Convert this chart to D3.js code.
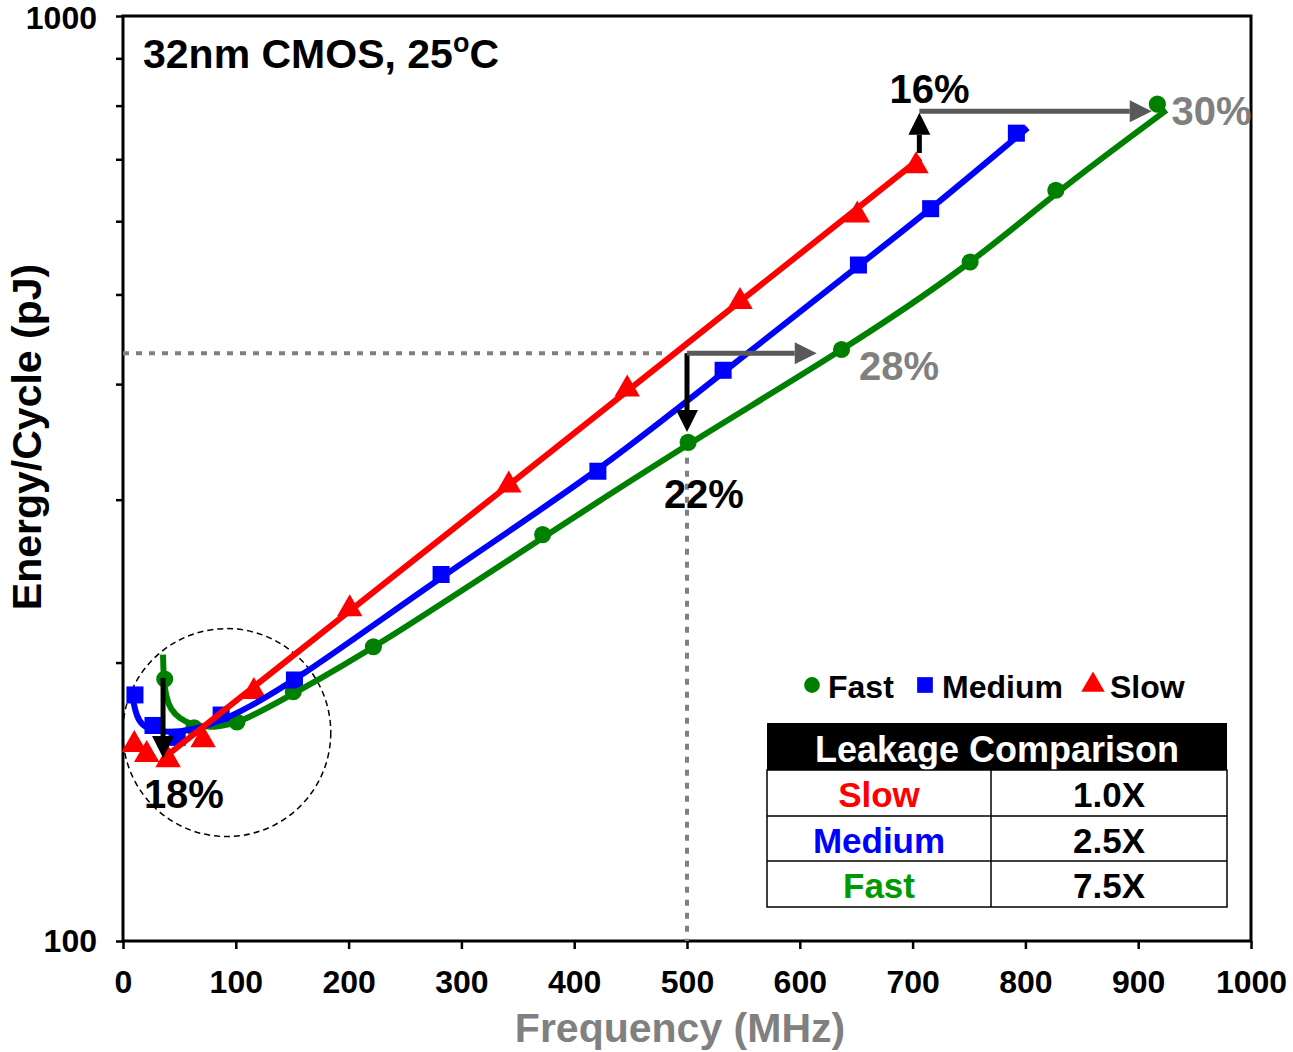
<!DOCTYPE html>
<html>
<head>
<meta charset="utf-8">
<script src="https://cdn.jsdelivr.net/npm/d3@7"></script>
<style>
  body { margin: 0; background: #fff; }
  svg text { font-family: "Liberation Sans", Arial, sans-serif; font-weight: bold; }
</style>
</head>
<body>
<div id="chart"></div>
<script>
// measured points (frequency MHz, energy pJ)
var fastPoints = [[37,192],[63,170],[101,172.5],[151,186],[222,208],[372,275],[501,346],[637,436],[751,542],[827,648],[917,803]];
var mediumPoints = [[10.6,184.5],[26.6,171],[48,166],[87,175.5],[152,191.5],[282,249],[421,322],[532,414],[652,538],[716,619],[792,747]];
var slowPoints = [[10,163],[21,159],[40,157],[71,165],[116,186],[201,228.5],[342,311],[447,395],[547,491],[651,609],[703,688.5]];

// trend lines
var fastFit = [[35.5,204],[36,192],[38,184],[42,178],[50,174],[62,171],[80,170],[104,172],[151,185],[222,207],[372,273],[501,345],[637,434],[751,538],[827,645],[925,791]];
var mediumFit = [[9,182],[12,175],[17,171],[26,169],[42,168],[59,169],[88,172.5],[151,190],[282,248],[421,321],[532,412],[652,537],[716,618],[802,757]];
var slowFit = [[37,158],[342,311],[707,702]];

var xTicks = [0,100,200,300,400,500,600,700,800,900,1000];
var yTicks = [100,200,300,400,500,600,700,800,900,1000];
var yLabels = [100,1000];

var legendNames = ['Fast','Medium','Slow'];
var leakageNames = ['Slow','Medium','Fast'];
var leakageValues = ['1.0X','2.5X','7.5X'];

// annotations: arrows [f1,e1,f2,e2,color]
var arrows = [
    [500,432,500,355,'#000'],
    [500,432,615,432,'#595959'],
    [706,711,706,786,'#000'],
    [706,789,912,789,'#595959'],
    [35.5,192.5,35.5,157.7,'#000']
];
var pctLabels = [
    ['16%',715,805,'#000'],
    ['30%',965,762,'#808080'],
    ['28%',688,404,'#808080'],
    ['22%',515,294,'#000'],
    ['18%',54,139.3,'#000']
];

var W = 1293, H = 1052;
var svg = d3.select('#chart').append('svg').attr('width', W).attr('height', H);

var x = d3.scaleLinear().domain([0,1000]).range([123,1251]);
var y = d3.scaleLog().domain([100,1000]).range([941,16]);

// axes
var xAxis = svg.append('g').attr('transform','translate(0,941)')
    .call(d3.axisBottom(x).tickValues(xTicks).tickSize(8).tickPadding(21).tickFormat(d3.format('d')));
var yAxis = svg.append('g').attr('transform','translate(123,0)')
    .call(d3.axisLeft(y).tickValues(yTicks).tickSize(7).tickPadding(19)
        .tickFormat(function(d) { return yLabels.indexOf(d) >= 0 ? d : ''; }));
[xAxis, yAxis].forEach(function(a) {
    a.select('.domain').remove();
    a.selectAll('.tick line').attr('stroke','#000').attr('stroke-width',2.5);
    a.selectAll('.tick text').attr('font-size',32).attr('fill','#000')
        .style('font-family','"Liberation Sans", Arial, sans-serif').style('font-weight','bold');
});
// keep the top label inside the page
yAxis.selectAll('.tick text').filter(function(d) { return d === 1000; }).attr('y', 2);

// frame
svg.append('rect').attr('x',123).attr('y',16).attr('width',1128).attr('height',925)
    .attr('fill','none').attr('stroke','#000').attr('stroke-width',3);

// axis titles
svg.append('text').attr('x',680).attr('y',1042).attr('text-anchor','middle')
    .attr('font-size',41).attr('fill','#808080').text('Frequency (MHz)');
svg.append('text').attr('transform','translate(41,437) rotate(-90)').attr('text-anchor','middle')
    .attr('font-size',41).attr('fill','#000').text('Energy/Cycle (pJ)');

// title
var title = svg.append('text').attr('x',143).attr('y',68).attr('font-size',41).attr('fill','#000');
title.append('tspan').text('32nm CMOS, 25');
title.append('tspan').attr('font-size',27).attr('dy',-16).text('o');
title.append('tspan').attr('dy',16).text('C');

// dotted guides
svg.append('line').attr('x1',x(0)).attr('x2',x(500) - 18).attr('y1',y(432)).attr('y2',y(432))
    .attr('stroke','#808080').attr('stroke-width',4).attr('stroke-dasharray','6,7');
svg.append('line').attr('x1',x(500)).attr('x2',x(500)).attr('y1',y(333)).attr('y2',y(100))
    .attr('stroke','#808080').attr('stroke-width',4).attr('stroke-dasharray','6,7');

// dashed circle
svg.append('circle').attr('cx',x(92)).attr('cy',y(168)).attr('r',104)
    .attr('fill','none').attr('stroke','#000').attr('stroke-width',1.5).attr('stroke-dasharray','6,4');

var series = [
    { pts: fastPoints, fit: fastFit, color: '#008000', sym: d3.symbolCircle, size: 230 },
    { pts: mediumPoints, fit: mediumFit, color: '#0000ff', sym: d3.symbolSquare, size: 290 },
    { pts: slowPoints, fit: slowFit, color: '#ff0000', sym: d3.symbolTriangle, size: 280 }
];

// markers
series.forEach(function(s) {
    svg.append('g').selectAll('path').data(s.pts).enter().append('path')
        .attr('d', d3.symbol().type(s.sym).size(s.size))
        .attr('transform', function(d) { return 'translate(' + x(d[0]) + ',' + y(d[1]) + ')'; })
        .attr('fill', s.color);
});

// trend lines
var line = d3.line()
    .x(function(d) { return x(d[0]); })
    .y(function(d) { return y(d[1]); })
    .curve(d3.curveBasis);
series.forEach(function(s) {
    svg.append('path').datum(s.fit).attr('d', line)
        .attr('fill','none').attr('stroke', s.color).attr('stroke-width',6);
});

// arrows
arrows.forEach(function(a) {
    var x1 = x(a[0]), y1 = y(a[1]), x2 = x(a[2]), y2 = y(a[3]);
    var ang = Math.atan2(y2 - y1, x2 - x1);
    var len = 22, half = 11;
    var bx = x2 - len * Math.cos(ang), by = y2 - len * Math.sin(ang);
    svg.append('line').attr('x1',x1).attr('y1',y1).attr('x2',bx).attr('y2',by)
        .attr('stroke',a[4]).attr('stroke-width',5);
    svg.append('path').attr('fill',a[4])
        .attr('d','M' + x2 + ',' + y2 +
            'L' + (bx + half * Math.sin(ang)) + ',' + (by - half * Math.cos(ang)) +
            'L' + (bx - half * Math.sin(ang)) + ',' + (by + half * Math.cos(ang)) + 'Z');
});

// percent labels
pctLabels.forEach(function(p) {
    svg.append('text').attr('x', x(p[1])).attr('y', y(p[2])).attr('text-anchor','middle')
        .attr('font-size',40).attr('fill',p[3]).text(p[0]);
});

// legend
var legendX = [812, 925, 1093];
var legendText = [828, 942, 1110];
series.forEach(function(s, i) {
    svg.append('path').attr('d', d3.symbol().type(s.sym).size(s.size * 0.85))
        .attr('transform','translate(' + legendX[i] + ',' + 685 + ')').attr('fill', s.color);
    svg.append('text').attr('x', legendText[i]).attr('y', 698).attr('font-size',32)
        .attr('fill','#000').text(legendNames[i]);
});

// leakage table
var tx0 = 767, tx1 = 1227, tmid = 991, rowTops = [723, 770, 816, 861, 907];
var nameColor = { Slow: '#ff0000', Medium: '#0000ff', Fast: '#009900' };
svg.append('rect').attr('x',tx0).attr('y',rowTops[0]).attr('width',tx1 - tx0).attr('height',rowTops[1] - rowTops[0])
    .attr('fill','#000');
svg.append('text').attr('x',(tx0 + tx1) / 2).attr('y',762).attr('text-anchor','middle')
    .attr('font-size',36).attr('fill','#fff').text('Leakage Comparison');
svg.append('rect').attr('x',tx0).attr('y',rowTops[1]).attr('width',tx1 - tx0).attr('height',rowTops[4] - rowTops[1])
    .attr('fill','none').attr('stroke','#000').attr('stroke-width',1.5);
svg.append('line').attr('x1',tmid).attr('x2',tmid).attr('y1',rowTops[1]).attr('y2',rowTops[4])
    .attr('stroke','#000').attr('stroke-width',1.5);
leakageNames.forEach(function(n, i) {
    if (i > 0) {
        svg.append('line').attr('x1',tx0).attr('x2',tx1).attr('y1',rowTops[i + 1]).attr('y2',rowTops[i + 1])
            .attr('stroke','#000').attr('stroke-width',1.5);
    }
    var by = rowTops[i + 1] + 37;
    svg.append('text').attr('x',879).attr('y',by).attr('text-anchor','middle')
        .attr('font-size',35).attr('fill',nameColor[n]).text(n);
    svg.append('text').attr('x',1109).attr('y',by).attr('text-anchor','middle')
        .attr('font-size',35).attr('fill','#000').text(leakageValues[i]);
});
</script>
</body>
</html>
